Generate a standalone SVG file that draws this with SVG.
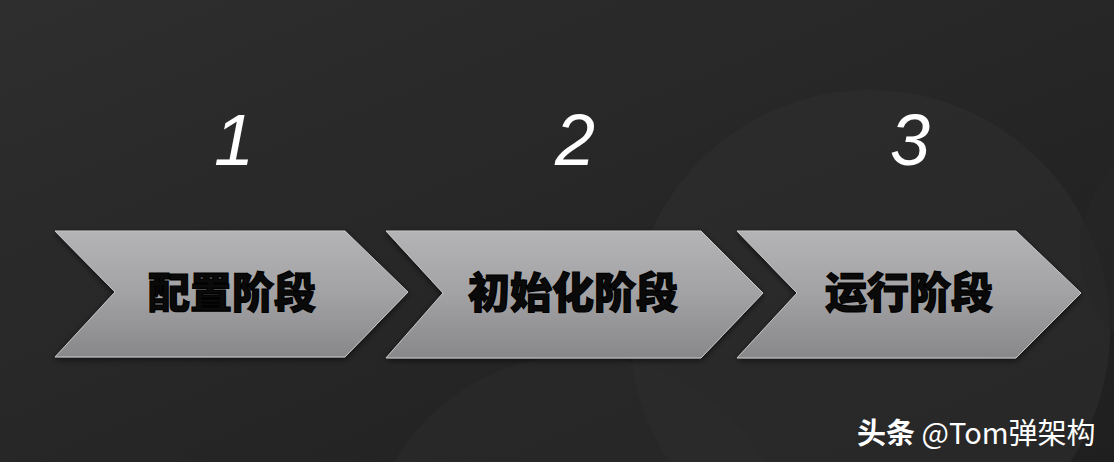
<svg xmlns="http://www.w3.org/2000/svg" width="1114" height="462" viewBox="0 0 1114 462">
<defs>
<linearGradient id="bg" x1="0" y1="0" x2="1" y2="1">
<stop offset="0" stop-color="#2e2e2e"/>
<stop offset="1" stop-color="#1f1f1f"/>
</linearGradient>
<linearGradient id="chev" x1="0" y1="0" x2="0" y2="1">
<stop offset="0" stop-color="#b4b4b6"/>
<stop offset="0.5" stop-color="#a2a2a4"/>
<stop offset="1" stop-color="#88888a"/>
</linearGradient>
<filter id="sh" x="-10%" y="-10%" width="120%" height="130%">
<feDropShadow dx="0" dy="2" stdDeviation="3" flood-color="#000" flood-opacity="0.6"/>
</filter>
</defs>
<style>
.chev{fill:url(#chev);stroke:#c8c8ca;stroke-width:1;filter:url(#sh)}
.lbl{font-family:"Noto Sans CJK SC","Liberation Sans",sans-serif;font-weight:900;font-size:42px;fill:#0a0a0a;stroke:#000;stroke-width:1.2;text-anchor:middle}
.num{font-family:"Liberation Sans","DejaVu Sans",sans-serif;font-style:italic;font-size:72px;fill:#ffffff;text-anchor:middle}
.wm{font-family:"Noto Sans CJK SC",sans-serif;font-size:29px;fill:#ffffff}
</style>
<rect width="1114" height="462" fill="url(#bg)"/>
<circle cx="870" cy="330" r="240" fill="#303030" opacity="0.55"/>
<circle cx="580" cy="570" r="215" fill="#2c2c2c" opacity="0.5"/>
<circle cx="1200" cy="250" r="120" fill="#262626" opacity="0.6"/>
<g id="connectors"></g>
<g id="node1">
<text class="num" x="234" y="165">1</text>
<polygon class="chev" points="55,231 345,231 408,292 345,357 55,357 115,292"/>
<text class="lbl" x="232" y="308">配置阶段</text>
</g>
<g id="node2">
<text class="num" x="575" y="165">2</text>
<polygon class="chev" points="386,231 701,231 763,293 701,358 386,358 443,293"/>
<text class="lbl" x="573" y="308">初始化阶段</text>
</g>
<g id="node3">
<text class="num" x="910" y="165">3</text>
<polygon class="chev" points="737,231 1016,231 1081,293 1016,358 737,358 797,293"/>
<text class="lbl" x="909" y="308">运行阶段</text>
</g>
<g id="watermark">
<text class="wm" x="857" y="444"><tspan font-weight="bold">头条</tspan> @Tom弹架构</text>
</g>
</svg>
